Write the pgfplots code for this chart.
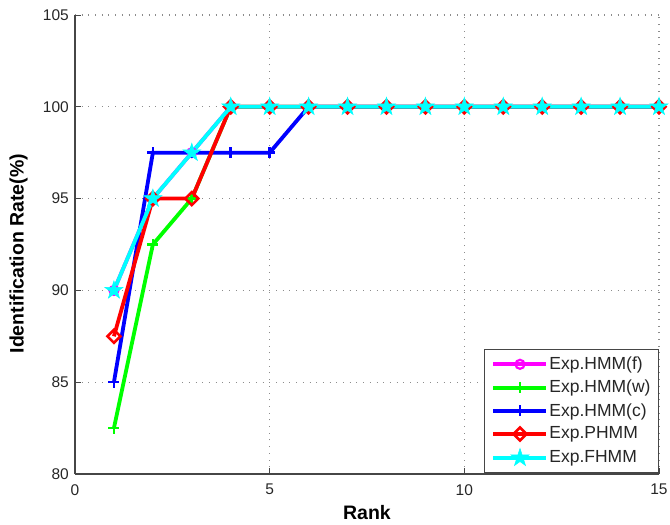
\documentclass[border=0pt]{standalone}
\usepackage{pgfplots}
\pgfplotsset{compat=1.18}
\usepackage{fontspec}
\setmainfont{Liberation Sans}
\definecolor{mmag}{RGB}{255,0,255}
\definecolor{mgreen}{RGB}{0,255,0}
\definecolor{mblue}{RGB}{0,0,255}
\definecolor{mred}{RGB}{255,0,0}
\definecolor{mcyan}{RGB}{0,255,255}
\definecolor{axgray}{RGB}{70,70,70}
\pgfdeclareplotmark{pentagram}{%
 \pgfpathmoveto{\pgfpointpolar{90}{\pgfplotmarksize}}%
 \pgfpathlineto{\pgfpointpolar{126}{0.382\pgfplotmarksize}}%
 \pgfpathlineto{\pgfpointpolar{162}{\pgfplotmarksize}}%
 \pgfpathlineto{\pgfpointpolar{198}{0.382\pgfplotmarksize}}%
 \pgfpathlineto{\pgfpointpolar{234}{\pgfplotmarksize}}%
 \pgfpathlineto{\pgfpointpolar{270}{0.382\pgfplotmarksize}}%
 \pgfpathlineto{\pgfpointpolar{306}{\pgfplotmarksize}}%
 \pgfpathlineto{\pgfpointpolar{342}{0.382\pgfplotmarksize}}%
 \pgfpathlineto{\pgfpointpolar{18}{\pgfplotmarksize}}%
 \pgfpathlineto{\pgfpointpolar{54}{0.382\pgfplotmarksize}}%
 \pgfpathclose\pgfusepathqfillstroke}
\pgfdeclareplotmark{mdiamond}{%
 \pgfpathmoveto{\pgfqpoint{0pt}{\pgfplotmarksize}}%
 \pgfpathlineto{\pgfqpoint{\pgfplotmarksize}{0pt}}%
 \pgfpathlineto{\pgfqpoint{0pt}{-\pgfplotmarksize}}%
 \pgfpathlineto{\pgfqpoint{-\pgfplotmarksize}{0pt}}%
 \pgfpathclose\pgfusepathqstroke}
\begin{document}
\fontsize{15.5pt}{17pt}\selectfont
\begin{tikzpicture}
\begin{axis}[
  at={(0pt,0pt)}, anchor=south west,
  scale only axis,
  width=584pt, height=459pt,
  xmin=0, xmax=15, ymin=80, ymax=105,
  xtick={0,5,10,15}, ytick={80,85,90,95,100,105},
  axis x line*=bottom, axis y line*=left,
  axis line style={line width=1.1pt, axgray, -},
  tick align=inside, major tick length=6pt,
  tick style={axgray, line width=0.9pt},
  grid=major,
  grid style={dash pattern=on 1pt off 5.7pt, line width=1.1pt, black!45},
  /pgf/number format/assume math mode=true,
  ticklabel style={font=\fontsize{15.5pt}{17pt}\selectfont, text=black!85},
  xticklabel style={inner sep=0pt, anchor=north, yshift=-10pt},
  yticklabel style={inner sep=0pt, anchor=east, xshift=-6pt},
  xlabel={\textbf{Rank}},
  ylabel={\textbf{Identification Rate(\%)}},
  label style={font=\fontsize{19.5pt}{21pt}\selectfont},
  xlabel style={at={(axis description cs:0.5,-0.1)}, anchor=base, inner sep=0pt},
  ylabel style={at={(axis description cs:-0.0805,0.48)}, anchor=south, inner sep=0pt},
  legend style={at={(rel axis cs:1,0.002)}, anchor=south east,
    draw=axgray, line width=1pt, font=\fontsize{17.5pt}{19pt}\selectfont,
    row sep=6.3pt, inner xsep=7pt, inner ysep=6.5pt,
    nodes={inner sep=1pt, text=black!85},
    /tikz/every even column/.append style={column sep=0pt}},
  legend cell align=left,
  legend image code/.code={\draw[#1] (0pt,0pt) -- (53pt,0pt); \draw[#1, only marks] plot coordinates {(26.5pt,0pt)};},
]
\addplot[mmag, line width=3.8pt, mark=o, mark size=4.5pt, mark options={line width=2.2pt}] coordinates {
(1,90)(2,95)(3,97.5)(4,100)(5,100)(6,100)(7,100)(8,100)(9,100)(10,100)(11,100)(12,100)(13,100)(14,100)(15,100)};
\addlegendentry{Exp.HMM(f)}
\addplot[mgreen, line width=3.8pt, mark=+, mark size=5.5pt, mark options={line width=2.6pt}] coordinates {
(1,82.5)(2,92.5)(3,95)(4,100)(5,100)(6,100)(7,100)(8,100)(9,100)(10,100)(11,100)(12,100)(13,100)(14,100)(15,100)};
\addlegendentry{Exp.HMM(w)}
\addplot[mblue, line width=3.8pt, mark=+, mark size=5.5pt, mark options={line width=2.6pt}] coordinates {
(1,85)(2,97.5)(3,97.5)(4,97.5)(5,97.5)(6,100)(7,100)(8,100)(9,100)(10,100)(11,100)(12,100)(13,100)(14,100)(15,100)};
\addlegendentry{Exp.HMM(c)}
\addplot[mred, line width=3.8pt, mark=mdiamond, mark size=6.5pt, mark options={line width=2.6pt}] coordinates {
(1,87.5)(2,95)(3,95)(4,100)(5,100)(6,100)(7,100)(8,100)(9,100)(10,100)(11,100)(12,100)(13,100)(14,100)(15,100)};
\addlegendentry{Exp.PHMM}
\addplot[mcyan, line width=3.8pt, mark=pentagram, mark size=9.5pt, mark options={fill=mcyan, draw=mcyan, line width=0.5pt}] coordinates {
(1,90)(2,95)(3,97.5)(4,100)(5,100)(6,100)(7,100)(8,100)(9,100)(10,100)(11,100)(12,100)(13,100)(14,100)(15,100)};
\addlegendentry{Exp.FHMM}
\end{axis}
\pgfresetboundingbox
\path (-75pt,-51pt) rectangle (595pt,474pt);
\end{tikzpicture}
\end{document}
